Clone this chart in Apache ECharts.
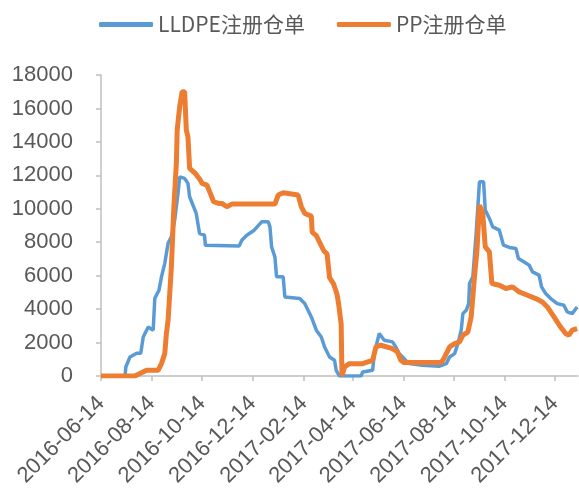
<!DOCTYPE html>
<html>
<head>
<meta charset="utf-8">
<script src="https://cdn.jsdelivr.net/npm/echarts@6/dist/echarts.min.js"></script>
<style>
  html, body { margin: 0; padding: 0; background: #fff; }
  #chart { width: 579px; height: 495px; }
</style>
</head>
<body>
<div id="chart"></div>
<script>
// LLDPE registered warehouse receipts
var lldpeDates = [
  '2016-06-14', '2016-07-13', '2016-07-14', '2016-07-19', '2016-07-27', '2016-08-01', '2016-08-04',
  '2016-08-10', '2016-08-16', '2016-08-18', '2016-08-23', '2016-08-26', '2016-08-30', '2016-09-03',
  '2016-09-07', '2016-09-11', '2016-09-15', '2016-09-17', '2016-09-23', '2016-09-27', '2016-09-29',
  '2016-10-07', '2016-10-11', '2016-10-17', '2016-10-18', '2016-11-28', '2016-12-01', '2016-12-07',
  '2016-12-16', '2016-12-25', '2017-01-02', '2017-01-04', '2017-01-06', '2017-01-10', '2017-01-12',
  '2017-01-20', '2017-01-22', '2017-02-09', '2017-02-15', '2017-02-23', '2017-03-01', '2017-03-07',
  '2017-03-11', '2017-03-17', '2017-03-23', '2017-03-25', '2017-03-29', '2017-04-24', '2017-04-26',
  '2017-05-08', '2017-05-10', '2017-05-16', '2017-05-22', '2017-06-01', '2017-06-05', '2017-06-09',
  '2017-06-15', '2017-06-21', '2017-07-07', '2017-07-27', '2017-08-05', '2017-08-09', '2017-08-15',
  '2017-08-19', '2017-08-23', '2017-08-25', '2017-08-29', '2017-09-01', '2017-09-02', '2017-09-06',
  '2017-09-10', '2017-09-14', '2017-09-19', '2017-09-21', '2017-09-26', '2017-09-30', '2017-10-08',
  '2017-10-13', '2017-10-20', '2017-10-28', '2017-10-31', '2017-11-07', '2017-11-13', '2017-11-17',
  '2017-11-25', '2017-11-28', '2017-12-03', '2017-12-09', '2017-12-17', '2017-12-25', '2017-12-29',
  '2018-01-04', '2018-01-10'
];
var lldpeValues = [
  0, 0, 540, 1140, 1360, 1360, 2330,
  2930, 2740, 4650, 5130, 5930, 6740, 7930,
  8320, 9320, 10920, 11910, 11820, 11520, 10720,
  9720, 8520, 8420, 7820, 7780, 8120, 8420,
  8720, 9220, 9220, 8920, 7720, 7120, 5930,
  5930, 4730, 4630, 4330, 3530, 2740, 2330,
  1740, 1140, 940, 340, 0, 0, 240,
  340, 1340, 2540, 2140, 2040, 1740, 1340,
  1040, 740, 640, 580, 740, 1140, 1340,
  1940, 2740, 3730, 3930, 4330, 5530, 5930,
  8520, 11610, 11610, 9920, 9420, 8920, 8720,
  7820, 7690, 7630, 7030, 6820, 6630, 6230,
  6030, 5330, 4930, 4630, 4330, 4230, 3830,
  3730, 4130
];

// PP registered warehouse receipts
var ppDates = [
  '2016-06-14', '2016-07-25', '2016-08-08', '2016-08-22', '2016-08-26', '2016-08-30', '2016-09-01',
  '2016-09-03', '2016-09-07', '2016-09-10', '2016-09-13', '2016-09-14', '2016-09-17', '2016-09-20',
  '2016-09-23', '2016-09-25', '2016-09-27', '2016-09-29', '2016-10-06', '2016-10-12', '2016-10-14',
  '2016-10-20', '2016-10-24', '2016-10-28', '2016-11-03', '2016-11-07', '2016-11-13', '2016-11-19',
  '2017-01-10', '2017-01-14', '2017-01-20', '2017-02-07', '2017-02-11', '2017-02-15', '2017-02-23',
  '2017-02-24', '2017-03-01', '2017-03-10', '2017-03-14', '2017-03-17', '2017-03-22', '2017-03-26',
  '2017-03-28', '2017-03-31', '2017-04-01', '2017-04-04', '2017-04-10', '2017-04-26', '2017-05-02',
  '2017-05-08', '2017-05-12', '2017-05-18', '2017-06-01', '2017-06-07', '2017-06-11', '2017-06-15',
  '2017-07-30', '2017-08-03', '2017-08-09', '2017-08-15', '2017-08-21', '2017-08-25', '2017-08-31',
  '2017-09-04', '2017-09-08', '2017-09-11', '2017-09-14', '2017-09-18', '2017-09-21', '2017-09-26',
  '2017-09-29', '2017-10-08', '2017-10-16', '2017-10-24', '2017-11-01', '2017-11-11', '2017-11-21',
  '2017-11-29', '2017-12-05', '2017-12-13', '2017-12-21', '2017-12-27', '2017-12-31', '2018-01-04',
  '2018-01-10'
];
var ppValues = [
  0, 0, 340, 340, 740, 1340, 2540,
  3330, 6530, 10120, 12710, 14710, 16100, 17000,
  17000, 14710, 14300, 12410, 12110, 11710, 11520,
  11410, 10920, 10420, 10320, 10320, 10120, 10280,
  10280, 10820, 10960, 10820, 10120, 9720, 9560,
  8600, 8390, 7490, 7290, 5880, 5490, 4890,
  4290, 3100, 0, 540, 740, 740, 840,
  940, 1740, 1840, 1640, 1440, 940, 800,
  800, 1140, 1740, 1940, 2040, 2440, 2630,
  3530, 5930, 7520, 10220, 9720, 7720, 7420,
  5530, 5430, 5230, 5330, 5030, 4830, 4630,
  4430, 4130, 3530, 2930, 2540, 2440, 2740,
  2840
];

var tickDates = [
  '2016-06-14', '2016-08-14', '2016-10-14', '2016-12-14', '2017-02-14',
  '2017-04-14', '2017-06-14', '2017-08-14', '2017-10-14', '2017-12-14'
];

var axisColor = '#bfbfbf';
var textColor = '#595959';

function toTime(d) {
  return echarts.number.parseDate(d).getTime();
}

function zip(dates, values) {
  return dates.map(function (d, i) { return [toTime(d), values[i]]; });
}

var tickValues = tickDates.map(toTime);

var chart = echarts.init(document.getElementById('chart'));

chart.setOption({
  animation: false,
  legend: {
    top: 9,
    left: 94,
    itemGap: 32,
    itemWidth: 54,
    itemHeight: 5,
    icon: 'roundRect',
    textStyle: {
      fontSize: 21,
      color: textColor,
      fontFamily: 'Noto Sans CJK SC'
    },
    data: ['LLDPE注册仓单', 'PP注册仓单']
  },
  grid: {
    left: 101,
    right: 1,
    top: 75,
    height: 301,
    containLabel: false
  },
  xAxis: {
    type: 'value',
    min: toTime('2016-06-14'),
    max: toTime('2018-01-11'),
    splitLine: { show: false },
    axisLine: { lineStyle: { color: axisColor, width: 1.5 } },
    axisTick: {
      show: true,
      length: 5,
      customValues: tickValues,
      lineStyle: { color: axisColor, width: 1.5 }
    },
    axisLabel: {
      customValues: tickValues,
      rotate: 45,
      margin: 24,
      fontSize: 22,
      color: textColor,
      fontFamily: 'Liberation Sans',
      formatter: function (v) {
        return echarts.time.format(v, '{yyyy}-{MM}-{dd}', false);
      }
    }
  },
  yAxis: {
    type: 'value',
    min: 0,
    max: 18000,
    interval: 2000,
    splitLine: { show: false },
    axisLine: { show: true, lineStyle: { color: axisColor, width: 1.5 } },
    axisTick: { show: true, length: 5, lineStyle: { color: axisColor, width: 1.5 } },
    axisLabel: {
      margin: 28,
      fontSize: 22,
      color: textColor,
      fontFamily: 'Liberation Sans',
      formatter: function (v) { return String(v); }
    }
  },
  series: [
    {
      name: 'LLDPE注册仓单',
      type: 'line',
      symbol: 'none',
      color: '#5b9bd5',
      lineStyle: { width: 3.5, color: '#5b9bd5' },
      data: zip(lldpeDates, lldpeValues)
    },
    {
      name: 'PP注册仓单',
      type: 'line',
      symbol: 'none',
      color: '#ed7d31',
      lineStyle: { width: 5, color: '#ed7d31' },
      data: zip(ppDates, ppValues)
    }
  ]
});
</script>
</body>
</html>
